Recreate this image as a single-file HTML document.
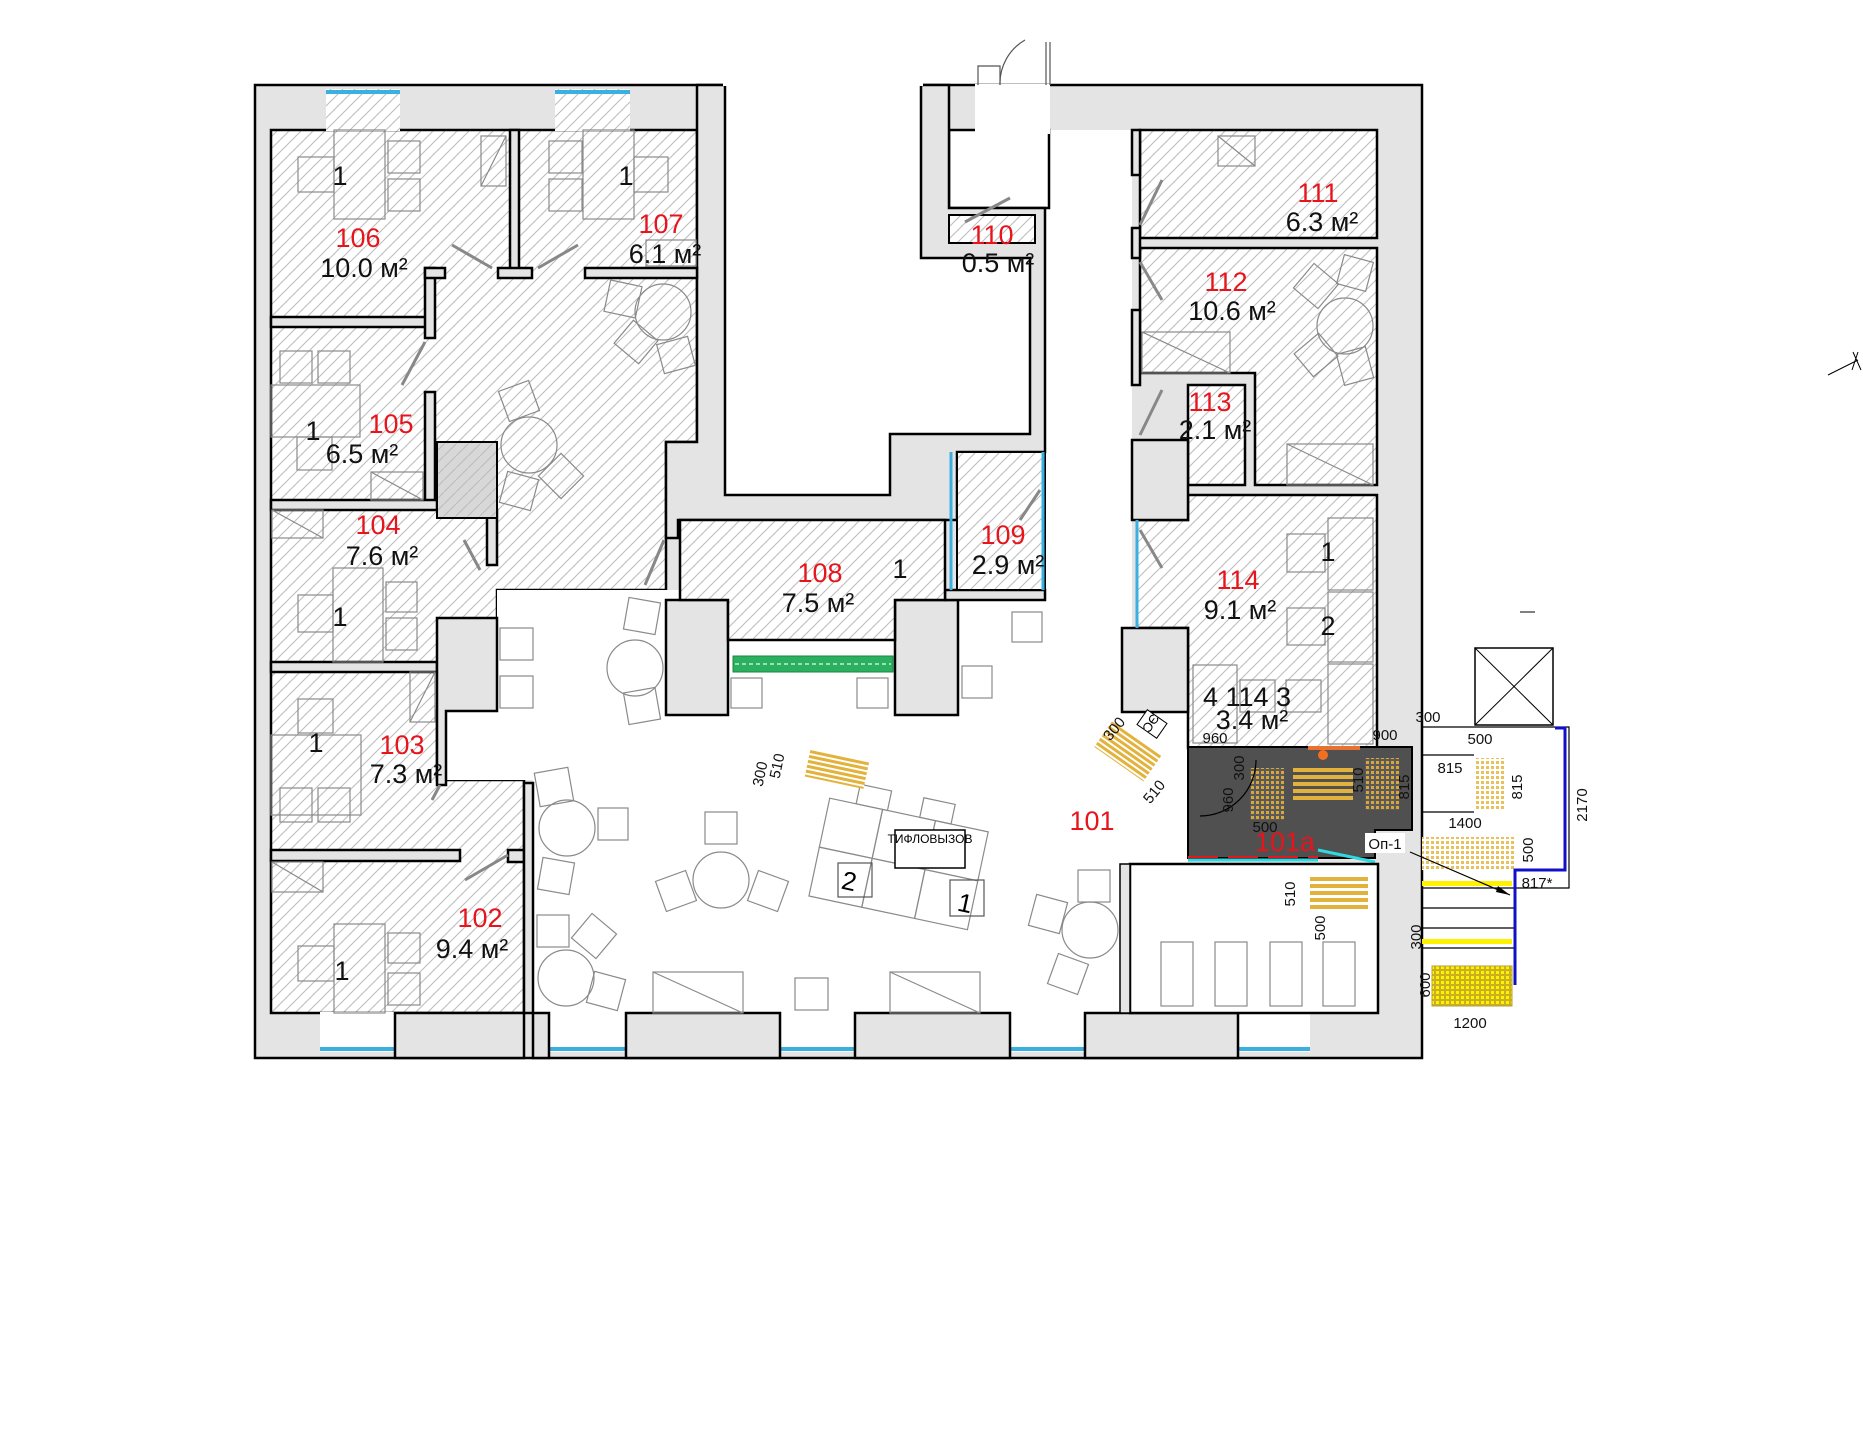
<!DOCTYPE html>
<html><head><meta charset="utf-8"><style>
html,body{margin:0;padding:0;background:#fff;}
svg{display:block;}
text{font-family:"Liberation Sans",sans-serif;}
.r{fill:#e8141c;font-size:27px;text-anchor:middle;}
.k{fill:#111;font-size:27px;text-anchor:middle;}
.d{fill:#111;font-size:15px;text-anchor:middle;font-family:"Liberation Sans",sans-serif;}
.f{fill:none;stroke:#8a8a8a;stroke-width:1.2;}
.w{fill:#e4e4e4;stroke:#000;stroke-width:2.5;}
.t{fill:#e2b23c;}
</style></head><body>
<svg width="1863" height="1440" viewBox="0 0 1863 1440" xmlns="http://www.w3.org/2000/svg">
<defs>
<pattern id="h" patternUnits="userSpaceOnUse" width="12" height="12">
<rect width="12" height="12" fill="#fff"/>
<path d="M-1,13 L13,-1 M-1,1 L1,-1 M11,13 L13,11" stroke="#bcbcbc" stroke-width="1"/>
</pattern>
<pattern id="hg" patternUnits="userSpaceOnUse" width="12" height="12">
<rect width="12" height="12" fill="#d8d8d8"/>
<path d="M-1,13 L13,-1" stroke="#bbbbbb" stroke-width="1"/>
</pattern>
<pattern id="dots" patternUnits="userSpaceOnUse" width="5" height="5">
<rect width="5" height="5" fill="#fff"/>
<rect x="1" y="1" width="3" height="3" fill="#e9c15a"/>
</pattern>
<pattern id="dotsd" patternUnits="userSpaceOnUse" width="5" height="5">
<rect width="5" height="5" fill="#5a5a5a"/>
<rect x="1" y="1" width="3" height="3" fill="#d9a63a"/>
</pattern>
<pattern id="doty" patternUnits="userSpaceOnUse" width="5" height="5">
<rect width="5" height="5" fill="#c8b020"/>
<rect x="1" y="1" width="3" height="3" fill="#fff200"/>
</pattern>
<pattern id="strip" patternUnits="userSpaceOnUse" width="10" height="5">
<rect width="10" height="5" fill="#fff"/>
<rect x="0" y="1" width="10" height="3" fill="#e2b23c"/>
</pattern>
</defs>

<rect x="255" y="85" width="1167" height="973" class="w"/>

<path d="M271,130 H697 V442 H666 V590 H497 V711 H437 V780 H524 V1013 H271 Z" fill="url(#h)" stroke="#000" stroke-width="2.5"/>
<rect x="326" y="89" width="74" height="42" fill="url(#h)"/>
<rect x="555" y="89" width="75" height="42" fill="url(#h)"/>
<line x1="326" y1="92" x2="400" y2="92" stroke="#3ab0e0" stroke-width="4"/>
<line x1="555" y1="92" x2="630" y2="92" stroke="#3ab0e0" stroke-width="4"/>

<path d="M497,590 H1132 V864 H1120 V1013 H533 V780 H437 V711 H497 Z" fill="#fff"/>
<rect x="1045" y="130" width="87" height="618" fill="#fff"/>
<rect x="949" y="130" width="100" height="78" fill="#fff" stroke="#000" stroke-width="2.5"/>
<rect x="975" y="84" width="75" height="50" fill="#fff"/>
<rect x="1132" y="712" width="56" height="152" fill="#fff"/>

<g fill="#fff">
<rect x="320" y="1012" width="75" height="40"/>
<rect x="549" y="1012" width="77" height="40"/>
<rect x="780" y="1012" width="75" height="40"/>
<rect x="1010" y="1012" width="75" height="40"/>
<rect x="1238" y="1012" width="72" height="40"/>
</g>
<g stroke="#3ab0e0" stroke-width="4">
<line x1="320" y1="1049" x2="395" y2="1049"/>
<line x1="549" y1="1049" x2="626" y2="1049"/>
<line x1="780" y1="1049" x2="855" y2="1049"/>
<line x1="1010" y1="1049" x2="1085" y2="1049"/>
<line x1="1238" y1="1049" x2="1310" y2="1049"/>
</g>
<g class="w">
<rect x="533" y="1013" width="16" height="45"/>
<rect x="626" y="1013" width="154" height="45"/>
<rect x="855" y="1013" width="155" height="45"/>
<rect x="1085" y="1013" width="153" height="45"/>
<rect x="395" y="1013" width="129" height="45"/>
</g>

<path d="M697,85 H949 V208 H1045 V452 H957 V520 H678 V538 H666 V442 H697 Z" class="w"/>
<path d="M725,84 H921 V258 H1030 V434 H890 V495 H725 Z" fill="#fff" stroke="#000" stroke-width="2.5"/>
<rect x="723" y="80" width="200" height="6" fill="#fff"/>
<rect x="949" y="215" width="86" height="28" fill="url(#h)" stroke="#000" stroke-width="2"/>

<g class="w">
<rect x="510" y="130" width="9" height="140"/>
<rect x="498" y="268" width="34" height="10"/>
<rect x="585" y="268" width="112" height="10"/>
<rect x="271" y="317" width="156" height="10"/>
<rect x="425" y="268" width="10" height="70"/>
<rect x="425" y="268" width="20" height="10"/>
<rect x="425" y="392" width="10" height="110"/>
<rect x="271" y="500" width="166" height="10"/>
<rect x="487" y="510" width="10" height="55"/>
<rect x="271" y="662" width="166" height="10"/>
<path d="M437,618 H497 V711 H446 V785 H437 Z"/>
<rect x="271" y="850" width="189" height="11"/>
<rect x="508" y="850" width="16" height="12"/>
<rect x="524" y="783" width="9" height="230"/>
<rect x="666" y="600" width="62" height="115"/>
<rect x="895" y="600" width="63" height="115"/>
<rect x="945" y="590" width="100" height="10"/>
</g>
<rect x="437" y="442" width="60" height="76" fill="url(#hg)" stroke="#000" stroke-width="2"/>
<path d="M680,520 H945 V600 H895 V640 H728 V600 H680 Z" fill="url(#h)" stroke="#000" stroke-width="2.5"/>
<rect x="733" y="656" width="160" height="16" fill="#2ab060" stroke="#1a8a40"/>
<path d="M735,664 H891" stroke="#9ee0b0" stroke-width="2" stroke-dasharray="4 3"/>
<rect x="957" y="452" width="88" height="138" fill="url(#h)" stroke="#000" stroke-width="2"/>
<line x1="951" y1="452" x2="951" y2="590" stroke="#3ab0e0" stroke-width="3"/>
<line x1="1043" y1="452" x2="1043" y2="590" stroke="#3ab0e0" stroke-width="3"/>

<rect x="1140" y="130" width="237" height="108" fill="url(#h)" stroke="#000" stroke-width="2.5"/>
<path d="M1140,248 H1377 V485 H1255 V373 H1140 Z" fill="url(#h)" stroke="#000" stroke-width="2.5"/>
<rect x="1188" y="385" width="57" height="100" fill="url(#h)" stroke="#000" stroke-width="2.5"/>
<path d="M1188,495 H1377 V748 H1188 V628 H1137 V520 H1188 Z" fill="url(#h)" stroke="#000" stroke-width="2.5"/>
<g class="w">
<rect x="1132" y="440" width="56" height="80"/>
<rect x="1122" y="628" width="66" height="84"/>
<rect x="1132" y="130" width="8" height="45"/>
<rect x="1132" y="228" width="8" height="30"/>
<rect x="1132" y="310" width="8" height="75"/>
</g>
<line x1="1137" y1="520" x2="1137" y2="628" stroke="#3ab0e0" stroke-width="3"/>

<path d="M1188,747 H1412 V830 H1375 V858 H1188 Z" fill="#505050" stroke="#000" stroke-width="2"/>
<line x1="1188" y1="860" x2="1318" y2="860" stroke="#30d8e0" stroke-width="3"/>
<line x1="1318" y1="850" x2="1375" y2="862" stroke="#30d8e0" stroke-width="3"/>
<line x1="1188" y1="857" x2="1318" y2="857" stroke="#e8141c" stroke-width="2" stroke-dasharray="30 10"/>
<rect x="1250" y="768" width="34" height="52" fill="url(#dotsd)"/>
<rect x="1365" y="758" width="34" height="52" fill="url(#dotsd)"/>
<g fill="#e2b23c"><rect x="1293" y="768" width="60" height="4"/><rect x="1293" y="775" width="60" height="4"/><rect x="1293" y="782" width="60" height="4"/><rect x="1293" y="789" width="60" height="4"/><rect x="1293" y="796" width="60" height="4"/></g>
<rect x="1308" y="746" width="52" height="4" fill="#e87030"/>
<circle cx="1323" cy="755" r="5" fill="#f07020"/>
<path d="M1200,816 A56,56 0 0 0 1256,760" fill="none" stroke="#000" stroke-width="1.2"/>

<rect x="1130" y="864" width="248" height="149" fill="#fff" stroke="#000" stroke-width="2.5"/>
<rect x="1120" y="864" width="10" height="149" fill="#e4e4e4" stroke="#000" stroke-width="1.5"/>
<g class="f">
<rect x="1161" y="942" width="32" height="64"/><rect x="1215" y="942" width="32" height="64"/>
<rect x="1270" y="942" width="32" height="64"/><rect x="1323" y="942" width="32" height="64"/>
</g>
<g fill="#e2b23c"><rect x="1310" y="877" width="58" height="4"/><rect x="1310" y="884" width="58" height="4"/><rect x="1310" y="891" width="58" height="4"/><rect x="1310" y="898" width="58" height="4"/><rect x="1310" y="905" width="58" height="4"/></g>

<g class="f">
<rect x="334" y="130" width="51" height="89"/><rect x="298" y="157" width="36" height="35"/><rect x="388" y="141" width="32" height="32"/><rect x="388" y="179" width="32" height="32"/>
<rect x="481" y="136" width="25" height="50"/><line x1="481" y1="186" x2="506" y2="136"/>
<rect x="583" y="130" width="51" height="89"/><rect x="549" y="141" width="33" height="32"/><rect x="549" y="179" width="33" height="32"/><rect x="634" y="157" width="34" height="35"/>
<rect x="646" y="240" width="50" height="26"/>
<rect x="280" y="351" width="32" height="32"/><rect x="318" y="351" width="32" height="32"/><rect x="271" y="385" width="89" height="52"/><rect x="297" y="437" width="35" height="33"/>
<rect x="371" y="472" width="52" height="28"/><line x1="371" y1="472" x2="423" y2="500"/>
<rect x="272" y="510" width="51" height="28"/><line x1="272" y1="510" x2="323" y2="538"/>
<rect x="333" y="568" width="50" height="94"/><rect x="298" y="595" width="35" height="37"/><rect x="386" y="582" width="31" height="30"/><rect x="386" y="618" width="31" height="32"/>
<rect x="298" y="699" width="35" height="34"/><rect x="271" y="735" width="90" height="80"/><rect x="280" y="788" width="32" height="34"/><rect x="318" y="788" width="32" height="34"/>
<rect x="410" y="672" width="25" height="50"/><line x1="410" y1="722" x2="435" y2="672"/>
<rect x="272" y="862" width="51" height="30"/><line x1="272" y1="862" x2="323" y2="892"/>
<rect x="334" y="924" width="51" height="89"/><rect x="298" y="946" width="36" height="35"/><rect x="388" y="933" width="32" height="30"/><rect x="388" y="973" width="32" height="32"/>
<circle cx="663" cy="312" r="28"/><rect x="607" y="283" width="32" height="32" transform="rotate(12 623 299)"/><rect x="620" y="327" width="32" height="30" transform="rotate(40 636 342)"/><rect x="660" y="340" width="32" height="30" transform="rotate(-15 676 355)"/>
<circle cx="529" cy="445" r="28"/><rect x="503" y="385" width="32" height="32" transform="rotate(-20 519 401)"/><rect x="503" y="475" width="32" height="32" transform="rotate(15 519 491)"/><rect x="545" y="460" width="32" height="32" transform="rotate(45 561 476)"/>
<rect x="500" y="628" width="33" height="32"/><rect x="500" y="676" width="33" height="32"/>
<circle cx="635" cy="668" r="28"/><rect x="626" y="600" width="32" height="32" transform="rotate(10 642 616)"/><rect x="626" y="690" width="32" height="32" transform="rotate(-10 642 706)"/>
<rect x="731" y="678" width="31" height="30"/><rect x="857" y="678" width="31" height="30"/>
<rect x="1012" y="612" width="30" height="30"/><rect x="962" y="666" width="30" height="32"/>
<circle cx="567" cy="828" r="28"/><rect x="537" y="770" width="34" height="34" transform="rotate(-10 554 787)"/><rect x="598" y="808" width="30" height="32"/><rect x="540" y="860" width="32" height="32" transform="rotate(10 556 876)"/>
<circle cx="721" cy="880" r="28"/><rect x="705" y="812" width="32" height="32"/><rect x="660" y="875" width="32" height="32" transform="rotate(-20 676 891)"/><rect x="752" y="875" width="32" height="32" transform="rotate(20 768 891)"/>
<circle cx="566" cy="978" r="28"/><rect x="537" y="915" width="32" height="32"/><rect x="578" y="920" width="32" height="32" transform="rotate(40 594 936)"/><rect x="590" y="975" width="32" height="32" transform="rotate(15 606 991)"/>
<circle cx="1090" cy="930" r="28"/><rect x="1078" y="870" width="32" height="32"/><rect x="1032" y="898" width="32" height="32" transform="rotate(15 1048 914)"/><rect x="1052" y="958" width="32" height="32" transform="rotate(20 1068 974)"/>
<rect x="653" y="972" width="90" height="41"/><line x1="653" y1="972" x2="743" y2="1013"/>
<rect x="890" y="972" width="90" height="41"/><line x1="890" y1="972" x2="980" y2="1013"/>
<rect x="795" y="978" width="33" height="32"/>
<g transform="rotate(12 880 860)">
<rect x="818" y="810" width="54" height="50"/><rect x="872" y="810" width="54" height="50"/><rect x="926" y="810" width="54" height="50"/>
<rect x="818" y="860" width="54" height="50"/><rect x="872" y="860" width="54" height="50"/><rect x="926" y="860" width="54" height="50"/>
<rect x="845" y="790" width="32" height="20"/><rect x="910" y="790" width="32" height="20"/>
</g>
<rect x="838" y="863" width="34" height="34" stroke="#555"/><rect x="950" y="880" width="34" height="36" stroke="#555"/>
<circle cx="1345" cy="326" r="28"/><rect x="1300" y="270" width="32" height="32" transform="rotate(40 1316 286)"/><rect x="1340" y="258" width="30" height="30" transform="rotate(15 1355 273)"/><rect x="1300" y="340" width="32" height="30" transform="rotate(-40 1316 355)"/><rect x="1340" y="350" width="30" height="32" transform="rotate(-15 1355 366)"/>
<rect x="1142" y="332" width="88" height="41"/><line x1="1142" y1="332" x2="1230" y2="373"/>
<rect x="1287" y="444" width="86" height="41"/><line x1="1287" y1="444" x2="1373" y2="485"/>
<rect x="1218" y="136" width="37" height="30"/><line x1="1218" y1="136" x2="1255" y2="166"/>
<rect x="1328" y="518" width="45" height="72"/><rect x="1328" y="592" width="45" height="70"/><rect x="1328" y="664" width="45" height="80"/>
<rect x="1287" y="534" width="38" height="38"/><rect x="1287" y="608" width="38" height="37"/>
<rect x="1193" y="665" width="44" height="78"/><rect x="1240" y="680" width="35" height="32"/><rect x="1286" y="680" width="35" height="32"/>
</g>
<rect x="895" y="830" width="70" height="38" fill="#fff" stroke="#000" stroke-width="1.5"/>
<text x="930" y="843" font-size="12" text-anchor="middle" fill="#000">ТИФЛОВЫЗОВ</text>
<text x="849" y="890" font-size="26" text-anchor="middle" fill="#000" transform="rotate(12 849 882)">2</text>
<text x="965" y="912" font-size="26" text-anchor="middle" fill="#000" transform="rotate(12 965 904)">1</text>

<rect x="807" y="755" width="60" height="28" fill="url(#strip)" transform="rotate(12 837 769)"/>
<rect x="1098" y="735" width="60" height="32" fill="url(#strip)" transform="rotate(35 1128 751)"/>
<rect x="1140" y="715" width="24" height="18" fill="#fff" stroke="#000" transform="rotate(35 1152 724)"/>
<text x="1152" y="730" font-size="13" text-anchor="middle" fill="#000" transform="rotate(125 1152 724)">ЭС</text>

<g stroke="#888" stroke-width="3" fill="none">
<line x1="452" y1="245" x2="492" y2="268"/><line x1="578" y1="245" x2="538" y2="268"/>
<line x1="402" y1="385" x2="425" y2="342"/><line x1="480" y1="570" x2="464" y2="540"/>
<line x1="440" y1="785" x2="432" y2="800"/><line x1="465" y1="880" x2="508" y2="855"/>
<line x1="645" y1="585" x2="664" y2="540"/><line x1="965" y1="222" x2="1010" y2="198"/>
<line x1="1140" y1="225" x2="1162" y2="180"/><line x1="1140" y1="262" x2="1162" y2="300"/>
<line x1="1140" y1="435" x2="1162" y2="390"/><line x1="1040" y1="490" x2="1020" y2="520"/>
<line x1="1140" y1="530" x2="1162" y2="568"/>
</g>
<g stroke="#555" stroke-width="1.2" fill="none">
<path d="M1000,85 V66 H978 V85"/><path d="M1000,85 A50,50 0 0 1 1025,40"/>
<line x1="1046" y1="42" x2="1046" y2="85"/><line x1="1050" y1="42" x2="1050" y2="85"/>
</g>

<rect x="1475" y="648" width="78" height="77" fill="none" stroke="#000" stroke-width="1.5"/>
<line x1="1475" y1="648" x2="1553" y2="725" stroke="#000"/><line x1="1553" y1="648" x2="1475" y2="725" stroke="#000"/>
<g stroke="#000" stroke-width="1.2" fill="none">
<path d="M1422,727 H1569 V888 H1515"/>
<line x1="1422" y1="755" x2="1474" y2="755"/><line x1="1422" y1="812" x2="1474" y2="812"/>
<line x1="1422" y1="888" x2="1515" y2="888"/><line x1="1422" y1="908" x2="1515" y2="908"/>
<line x1="1422" y1="928" x2="1515" y2="928"/><line x1="1422" y1="948" x2="1515" y2="948"/>
<line x1="1515" y1="888" x2="1515" y2="948"/>
</g>
<rect x="1474" y="758" width="32" height="52" fill="url(#dots)"/>
<rect x="1422" y="837" width="93" height="33" fill="url(#dots)"/>
<rect x="1422" y="881" width="90" height="5" fill="#fff200"/>
<rect x="1422" y="939" width="90" height="5" fill="#fff200"/>
<rect x="1432" y="966" width="80" height="40" fill="url(#doty)" stroke="#b8a030"/>
<path d="M1555,728 H1565 V870 H1515 V985" fill="none" stroke="#1010c8" stroke-width="3"/>
<line x1="1410" y1="852" x2="1510" y2="895" stroke="#000" stroke-width="1.2"/>
<path d="M1510,895 l-12,-9 l-2,6 z" fill="#000"/>
<rect x="1365" y="833" width="40" height="20" fill="#fff"/>
<text x="1385" y="849" class="d">Оп-1</text>
<line x1="1520" y1="612" x2="1535" y2="612" stroke="#000"/>
<line x1="1828" y1="375" x2="1858" y2="360" stroke="#000"/>
<path d="M1853,352 l8,18 M1858,352 l-6,18" stroke="#000" fill="none"/>

<g class="d">
<text x="1215" y="743">960</text><text x="1244" y="768" transform="rotate(-90 1244 768)">300</text>
<text x="1385" y="740">900</text><text x="1428" y="722">300</text>
<text x="1480" y="744">500</text><text x="1450" y="773">815</text>
<text x="1409" y="787" transform="rotate(-90 1409 787)">815</text>
<text x="1522" y="787" transform="rotate(-90 1522 787)">815</text>
<text x="1233" y="800" transform="rotate(-90 1233 800)">960</text>
<text x="1363" y="780" transform="rotate(-90 1363 780)">510</text>
<text x="1265" y="832">500</text><text x="1465" y="828">1400</text>
<text x="1533" y="850" transform="rotate(-90 1533 850)">500</text>
<text x="1587" y="805" transform="rotate(-90 1587 805)">2170</text>
<text x="1537" y="888">817*</text>
<text x="1421" y="937" transform="rotate(-90 1421 937)">300</text>
<text x="1430" y="985" transform="rotate(-90 1430 985)">600</text>
<text x="1470" y="1028">1200</text>
<text x="1295" y="894" transform="rotate(-90 1295 894)">510</text>
<text x="1325" y="928" transform="rotate(-90 1325 928)">500</text>
<text x="1118" y="732" transform="rotate(-50 1118 732)">300</text>
<text x="1158" y="795" transform="rotate(-50 1158 795)">510</text>
<text x="765" y="775" transform="rotate(-78 765 775)">300</text>
<text x="782" y="767" transform="rotate(-78 782 767)">510</text>
</g>

<g>
<text x="340" y="185" class="k">1</text><text x="358" y="247" class="r">106</text><text x="364" y="277" class="k">10.0 м²</text>
<text x="626" y="185" class="k">1</text><text x="661" y="233" class="r">107</text><text x="665" y="263" class="k">6.1 м²</text>
<text x="313" y="440" class="k">1</text><text x="391" y="433" class="r">105</text><text x="362" y="463" class="k">6.5 м²</text>
<text x="378" y="534" class="r">104</text><text x="382" y="565" class="k">7.6 м²</text><text x="340" y="626" class="k">1</text>
<text x="316" y="752" class="k">1</text><text x="402" y="754" class="r">103</text><text x="406" y="783" class="k">7.3 м²</text>
<text x="480" y="927" class="r">102</text><text x="472" y="958" class="k">9.4 м²</text><text x="342" y="980" class="k">1</text>
<text x="820" y="582" class="r">108</text><text x="818" y="612" class="k">7.5 м²</text><text x="900" y="578" class="k">1</text>
<text x="1003" y="544" class="r">109</text><text x="1008" y="574" class="k">2.9 м²</text>
<text x="992" y="244" class="r">110</text><text x="998" y="272" class="k">0.5 м²</text>
<text x="1318" y="202" class="r">111</text><text x="1322" y="231" class="k">6.3 м²</text>
<text x="1226" y="291" class="r">112</text><text x="1232" y="320" class="k">10.6 м²</text>
<text x="1210" y="411" class="r">113</text><text x="1215" y="439" class="k">2.1 м²</text>
<text x="1238" y="589" class="r">114</text><text x="1240" y="619" class="k">9.1 м²</text>
<text x="1328" y="561" class="k">1</text><text x="1328" y="635" class="k">2</text>
<text x="1247" y="706" class="k">4 114 3</text><text x="1252" y="729" class="k">3.4 м²</text>
<text x="1092" y="830" class="r">101</text><text x="1285" y="851" class="r">101a</text>
</g>
</svg>
</body></html>
